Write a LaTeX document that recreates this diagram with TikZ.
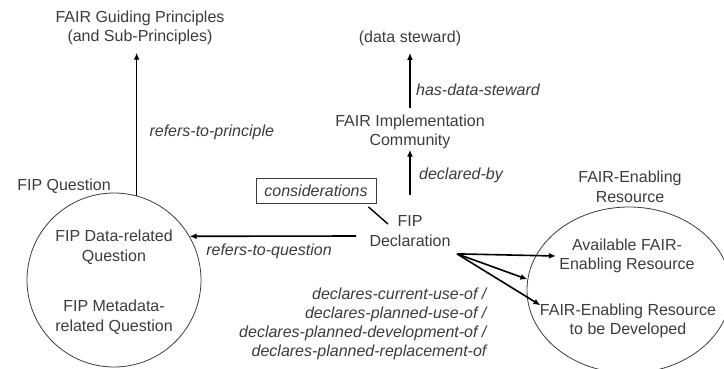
\documentclass[tikz,border=0pt]{standalone}
\usepackage{fontspec}
\setmainfont{Liberation Sans}
\usetikzlibrary{arrows.meta,shapes.geometric}
\definecolor{txt}{HTML}{3C3C3C}
\begin{document}
\begin{tikzpicture}[x=1pt,y=-1pt,
  every node/.style={text=txt,font=\fontsize{16}{19.5}\selectfont,align=center},
  lbl/.style={font=\fontsize{16}{19}\selectfont\itshape},
  arr/.style={draw=black,line width=1.6pt,-{Latex[length=7pt,width=6pt]}},
  ring/.style={draw=txt,line width=0.8pt},
  link/.style={draw=black,line width=1.4pt}
]
\useasboundingbox (0,0) rectangle (724,368);
\clip (0,0) rectangle (724,368);
\fill[white] (0,0) rectangle (724,368);

% top-level concepts
\node (fgp) at (140,28) {FAIR Guiding Principles\\(and Sub-Principles)};
\node (ds) at (410,38) {(data steward)};
\node (comm) at (410,132) {FAIR Implementation\\Community};
\node (decl) at (410,231) {FIP\\Declaration};
\node[draw=txt,line width=0.8pt,lbl,minimum width=120pt,minimum height=25pt,inner sep=0pt] (cons) at (316,191) {considerations};

% FIP question group
\node (fipq) at (64,186) {FIP Question};
\node[circle,ring,minimum size=174pt,inner sep=0pt] (qcirc) at (114,280) {};
\node (qdata) at (114,247) {FIP Data-related\\Question};
\node (qmeta) at (114,317) {FIP Metadata-\\related Question};

% FAIR-enabling resource group
\node (fer) at (630,187) {FAIR-Enabling\\Resource};
\node[ellipse,ring,minimum width=204pt,minimum height=166pt,inner sep=0pt] (rcirc) at (629,290) {};
\node (avail) at (627,256) {Available FAIR-\\Enabling Resource};
\node (tbd) at (628,321) {FAIR-Enabling Resource\\to be Developed};

% relations
\draw[arr] (qcirc.75) -- ([yshift=-4pt]qcirc.75 |- fgp.south);
\node[lbl,anchor=west] (lprin) at (146,132) {refers-to-principle};

\draw[arr] ([xshift=-10pt,yshift=-5pt]decl.west) -- (qcirc.30);
\node[lbl] (lques) at (269,251) {refers-to-question};

\draw[arr] ([yshift=17pt]decl.north) -- ([yshift=3pt]comm.south);
\node[lbl] (ldecl) at (461,175) {declared-by};

\draw[arr] ([yshift=3pt]comm.north) -- ([yshift=-4pt]ds.south);
\node[lbl] (lstew) at (478,90) {has-data-steward};

\draw[link] ([shift={(-8pt,-3pt)}]cons.south east) -- ([shift={(-22pt,7pt)}]decl.center);

\coordinate (dsrc) at ([shift={(3pt,-4pt)}]decl.south east);
\draw[arr] (dsrc) -- (avail.west);
\draw[arr] (dsrc) -- (rcirc.174);
\draw[arr] (dsrc) -- ([shift={(4pt,-5pt)}]tbd.north west);
\node[lbl,anchor=east,align=right] (luse) at (490,323.5) {declares-current-use-of /\\declares-planned-use-of /\\declares-planned-development-of /\\declares-planned-replacement-of};
\end{tikzpicture}
\end{document}
